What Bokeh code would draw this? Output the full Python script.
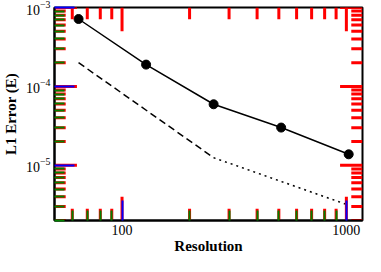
from bokeh.plotting import figure
from bokeh.models import FixedTicker, CustomJSTickFormatter
from bokeh.embed import file_html
from bokeh.resources import INLINE

resolution = [64, 128, 256, 512, 1024]
l1_error = [7.15e-4, 1.89e-4, 5.94e-5, 3.01e-5, 1.38e-5]
second_order_x = [64, 256]
second_order_y = [2.0e-4, 1.25e-5]
first_order_x = [256, 1024]
first_order_y = [1.25e-5, 3.125e-6]

x_major = [100, 1000]
x_minor = [60, 70, 80, 90] + [m * 100 for m in range(2, 10)]
y_major = [1e-5, 1e-4, 1e-3]
y_minor = [m * 10.0 ** e for e in (-6, -5, -4) for m in range(2, 10)]

X0, X1 = 50, 1180
Y0, Y1 = 2e-6, 1e-3

FONT = "Liberation Serif"

p = figure(width=365, height=256, x_axis_type="log", y_axis_type="log",
           x_range=(X0, X1), y_range=(Y0, Y1),
           output_backend="svg", toolbar_location=None,
           min_border_top=7, min_border_right=3, min_border_left=2, min_border_bottom=0)
p.grid.visible = False
p.outline_line_color = "black"
p.outline_line_width = 2

p.line(second_order_x, second_order_y, line_color="black", line_width=1.5, line_dash="7 4")
p.line(first_order_x, first_order_y, line_color="black", line_width=1.5, line_dash="2 4")
p.line(resolution, l1_error, line_color="black", line_width=1.5)
p.scatter(resolution, l1_error, size=9, color="black")

XMAJ, XMIN = 10 ** 0.1, 10 ** 0.05
YMAJ, YMIN = 10 ** 0.3, 10 ** 0.15
for ticks, f in ((x_major, YMAJ), (x_minor, YMIN)):
    n = len(ticks)
    p.segment(x0=ticks, y0=[Y0] * n, x1=ticks, y1=[Y0 * f] * n, line_color="red", line_width=3)
    p.segment(x0=ticks, y0=[Y1] * n, x1=ticks, y1=[Y1 / f] * n, line_color="red", line_width=3)
for ticks, f in ((y_major, XMAJ), (y_minor, XMIN)):
    n = len(ticks)
    p.segment(x0=[X0] * n, y0=ticks, x1=[X0 * f] * n, y1=ticks, line_color="red", line_width=3)
    p.segment(x0=[X1] * n, y0=ticks, x1=[X1 / f] * n, y1=ticks, line_color="red", line_width=3)

for ax in p.axis:
    ax.major_tick_in = 20
    ax.major_tick_out = 0
    ax.minor_tick_in = 10
    ax.minor_tick_out = 0
    ax.major_tick_line_color = "blue"
    ax.minor_tick_line_color = "green"
    ax.major_tick_line_width = 2
    ax.minor_tick_line_width = 2
    ax.axis_line_color = "black"
    ax.axis_line_width = 2
    ax.major_label_text_font = FONT
    ax.major_label_text_font_size = "14px"
    ax.major_label_text_color = "black"
    ax.axis_label_text_font = FONT
    ax.axis_label_text_font_size = "15px"
    ax.axis_label_text_font_style = "bold"
    ax.axis_label_text_color = "black"

for ax in p.xaxis:
    ax.ticker = FixedTicker(ticks=x_major, minor_ticks=x_minor)
    ax.formatter = CustomJSTickFormatter(code="return Math.round(tick).toString()")
    ax.axis_label = "Resolution"
    ax.axis_label_standoff = 0
    ax.major_label_standoff = 4
for ax in p.yaxis:
    ax.ticker = FixedTicker(ticks=y_major, minor_ticks=y_minor)
    ax.axis_label = "L1 Error (E)"
    ax.axis_label_standoff = 4
    ax.major_label_standoff = 4

open("out.html", "w").write(file_html(p, INLINE))
